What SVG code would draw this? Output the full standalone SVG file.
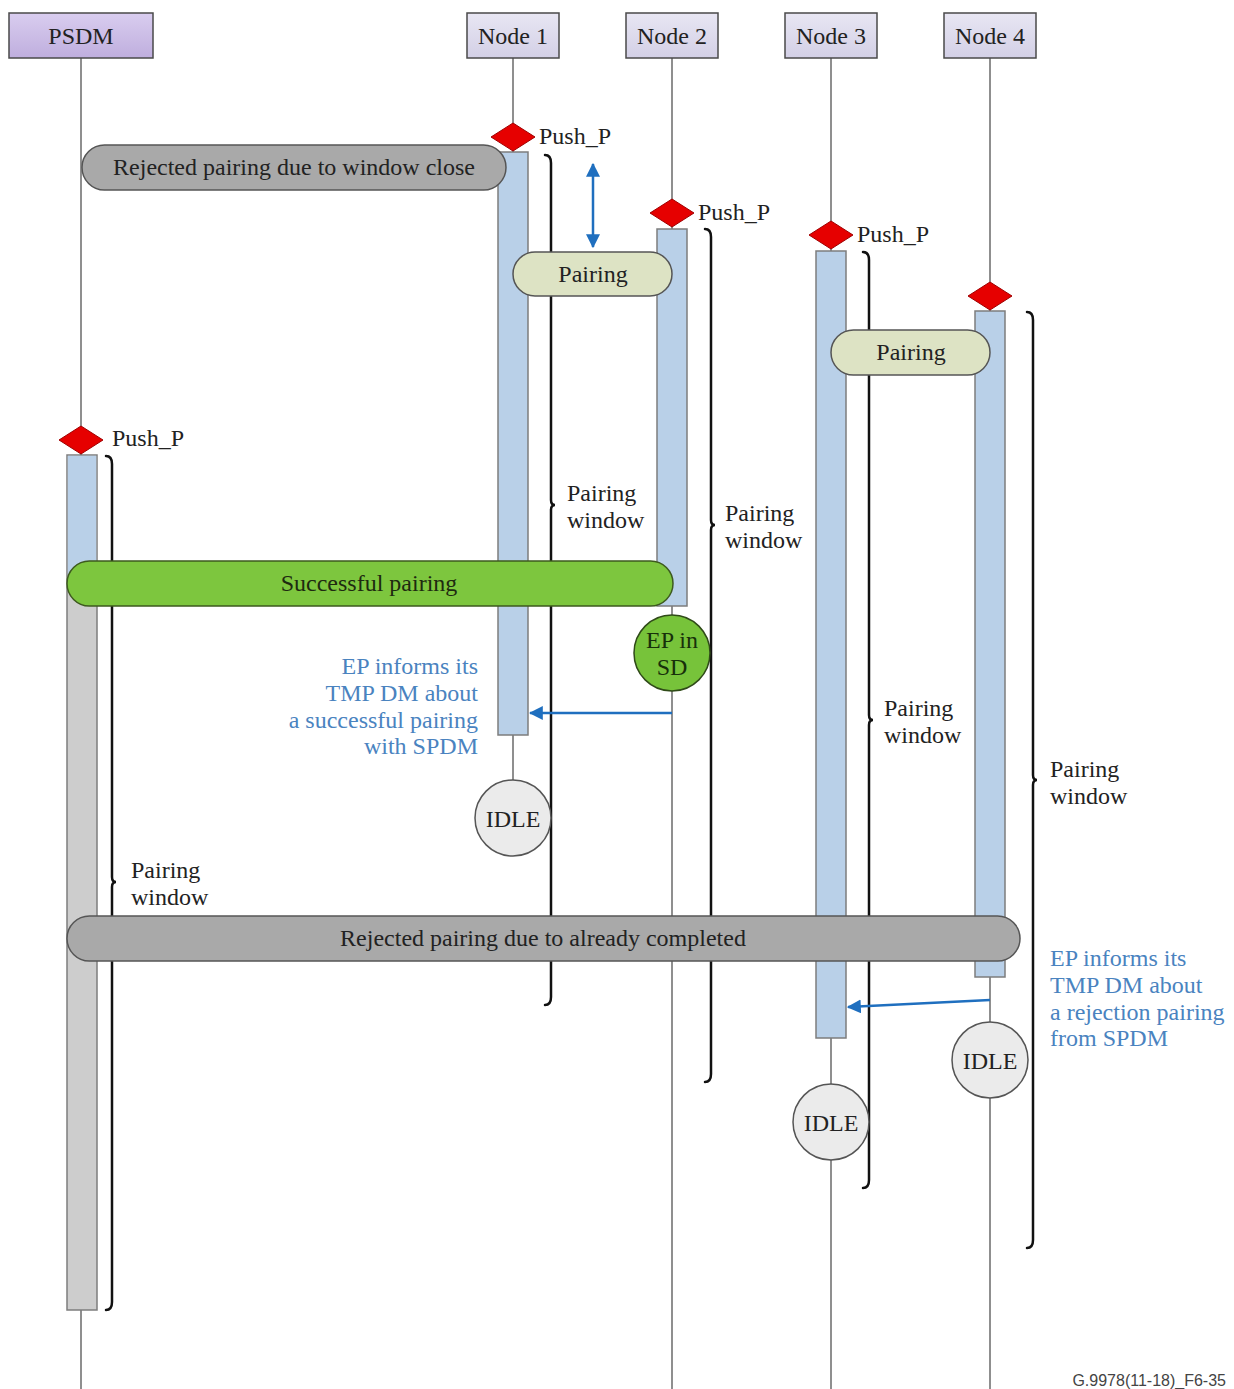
<svg xmlns="http://www.w3.org/2000/svg" width="1234" height="1389" viewBox="0 0 1234 1389">
  <style>
    .hdr { stroke: #4a4a4a; stroke-width: 1.5; }
    .life { stroke: #6a6a6a; stroke-width: 1.5; fill: none; }
    .bar { fill: #b9d0e8; stroke: #7d7d7d; stroke-width: 1.5; }
    .bar-grey { fill: #cdcdcd; stroke: #7d7d7d; stroke-width: 1.5; }
    .dia { fill: #e60000; stroke: #a00000; stroke-width: 1; }
    .brace { fill: none; stroke: #111; stroke-width: 2.5; stroke-linecap: round; }
    .pill-grey { fill: #a9a9a9; stroke: #555; stroke-width: 1.5; }
    .pill-pale { fill: #dde3c4; stroke: #555; stroke-width: 1.5; }
    .pill-green { fill: #7dc63e; stroke: #3d5a1e; stroke-width: 1.5; }
    .idle { fill: #ebebeb; stroke: #555; stroke-width: 1.5; }
    .t { font-family: 'Liberation Serif', 'Times New Roman', Times, 'DejaVu Serif', serif; font-size: 24px; fill: #222; }
    .c { text-anchor: middle; }
    .blue { fill: #4a83bf; }
    .msg { stroke: #1f6fbf; stroke-width: 2.5; fill: none; }
    .foot { font-family: 'Liberation Sans', Arial, sans-serif; font-size: 16px; fill: #444; }
  </style>
  <defs>
    <linearGradient id="gPsdm" x1="0" y1="0" x2="0" y2="1">
      <stop offset="0" stop-color="#d9cdef"/>
      <stop offset="1" stop-color="#bfaede"/>
    </linearGradient>
    <linearGradient id="gNode" x1="0" y1="0" x2="0" y2="1">
      <stop offset="0" stop-color="#e8e6f3"/>
      <stop offset="1" stop-color="#d3d0e6"/>
    </linearGradient>
    <marker id="ah" viewBox="0 0 12 12" refX="11" refY="6" markerWidth="14" markerHeight="14" markerUnits="userSpaceOnUse" orient="auto-start-reverse">
      <path d="M0,0 L12,6 L0,12 Z" fill="#1f6fbf"/>
    </marker>
  </defs>

  <rect width="1234" height="1389" fill="#fff"/>

  <!-- lifelines -->
  <g id="lifelines">
    <line class="life" x1="81" y1="58" x2="81" y2="1389"/>
    <line class="life" x1="513" y1="58" x2="513" y2="780"/>
    <line class="life" x1="672" y1="58" x2="672" y2="1389"/>
    <line class="life" x1="831" y1="58" x2="831" y2="1389"/>
    <line class="life" x1="990" y1="58" x2="990" y2="1389"/>
  </g>

  <!-- header boxes -->
  <g id="psdm">
    <rect class="hdr" x="9" y="13" width="144" height="45" fill="url(#gPsdm)"/>
    <text class="t c" x="81" y="44">PSDM</text>
  </g>
  <g id="node1">
    <rect class="hdr" x="467" y="13" width="92" height="45" fill="url(#gNode)"/>
    <text class="t c" x="513" y="44">Node 1</text>
  </g>
  <g id="node2">
    <rect class="hdr" x="626" y="13" width="92" height="45" fill="url(#gNode)"/>
    <text class="t c" x="672" y="44">Node 2</text>
  </g>
  <g id="node3">
    <rect class="hdr" x="785" y="13" width="92" height="45" fill="url(#gNode)"/>
    <text class="t c" x="831" y="44">Node 3</text>
  </g>
  <g id="node4">
    <rect class="hdr" x="944" y="13" width="92" height="45" fill="url(#gNode)"/>
    <text class="t c" x="990" y="44">Node 4</text>
  </g>

  <!-- activation bars -->
  <g id="bars">
    <rect class="bar" x="498" y="152" width="30" height="583"/>
    <rect class="bar" x="657" y="229" width="30" height="377"/>
    <rect class="bar" x="816" y="251" width="30" height="787"/>
    <rect class="bar" x="975" y="311" width="30" height="666"/>
    <rect class="bar-grey" x="67" y="455" width="30" height="855"/>
    <rect x="67.75" y="455.75" width="28.5" height="130" fill="#b9d0e8"/>
  </g>

  <!-- pairing window braces -->
  <g id="braces">
    <path class="brace" d="M545,155 Q551,155 551,163 V500 Q551,505 555,505 Q551,505 551,510 V997 Q551,1005 545,1005"/>
    <path class="brace" d="M705,229 Q711,229 711,237 V520 Q711,525 715,525 Q711,525 711,530 V1074 Q711,1082 705,1082"/>
    <path class="brace" d="M863,252 Q869,252 869,260 V715 Q869,720 873,720 Q869,720 869,725 V1180 Q869,1188 863,1188"/>
    <path class="brace" d="M1027,312 Q1033,312 1033,320 V775 Q1033,780 1037,780 Q1033,780 1033,785 V1240 Q1033,1248 1027,1248"/>
    <path class="brace" d="M106,456 Q112,456 112,464 V877 Q112,882 116,882 Q112,882 112,887 V1302 Q112,1310 106,1310"/>
  </g>

  <!-- window labels -->
  <g id="window-labels" class="t">
    <text x="567" y="501">Pairing</text><text x="567" y="528">window</text>
    <text x="725" y="521">Pairing</text><text x="725" y="548">window</text>
    <text x="884" y="716">Pairing</text><text x="884" y="743">window</text>
    <text x="1050" y="777">Pairing</text><text x="1050" y="804">window</text>
    <text x="131" y="878">Pairing</text><text x="131" y="905">window</text>
  </g>

  <!-- push button events -->
  <g id="push-events">
    <polygon class="dia" points="491,137 513,123 535,137 513,151"/>
    <text class="t" x="539" y="144">Push_P</text>
    <polygon class="dia" points="650,213 672,199 694,213 672,227"/>
    <text class="t" x="698" y="220">Push_P</text>
    <polygon class="dia" points="809,235 831,221 853,235 831,249"/>
    <text class="t" x="857" y="242">Push_P</text>
    <polygon class="dia" points="968,296 990,282 1012,296 990,310"/>
    <polygon class="dia" points="59,440 81,426 103,440 81,454"/>
    <text class="t" x="112" y="446">Push_P</text>
  </g>

  <!-- interaction bands -->
  <g id="rejected-close">
    <rect class="pill-grey" x="82" y="145" width="424" height="45" rx="22.5"/>
    <text class="t c" x="294" y="175">Rejected pairing due to window close</text>
  </g>
  <g id="pairing-12">
    <rect class="pill-pale" x="513" y="252" width="159" height="44" rx="22"/>
    <text class="t c" x="593" y="282">Pairing</text>
  </g>
  <g id="pairing-34">
    <rect class="pill-pale" x="831" y="330" width="159" height="45" rx="22.5"/>
    <text class="t c" x="911" y="360">Pairing</text>
  </g>
  <g id="successful">
    <rect class="pill-green" x="67" y="561" width="606" height="45" rx="22.5"/>
    <text class="t c" x="369" y="591" style="fill:#1e2a10">Successful pairing</text>
  </g>
  <g id="rejected-completed">
    <rect class="pill-grey" x="67" y="916" width="953" height="45" rx="22.5"/>
    <text class="t c" x="543" y="946">Rejected pairing due to already completed</text>
  </g>

  <!-- states -->
  <g id="ep-in-sd">
    <circle cx="672" cy="653" r="38" fill="#77c33a" stroke="#2f4a18" stroke-width="1.5"/>
    <text class="t c" x="672" y="648" style="fill:#17300a">EP in</text>
    <text class="t c" x="672" y="675" style="fill:#17300a">SD</text>
  </g>
  <g id="idle1">
    <circle class="idle" cx="513" cy="818" r="38"/>
    <text class="t c" x="513" y="827">IDLE</text>
  </g>
  <g id="idle4">
    <circle class="idle" cx="990" cy="1060" r="38"/>
    <text class="t c" x="990" y="1069">IDLE</text>
  </g>
  <g id="idle3">
    <circle class="idle" cx="831" cy="1122" r="38"/>
    <text class="t c" x="831" y="1131">IDLE</text>
  </g>

  <!-- messages -->
  <g id="connectors">
    <line class="msg" x1="593" y1="164" x2="593" y2="247" marker-start="url(#ah)" marker-end="url(#ah)"/>
    <line class="msg" x1="672" y1="713" x2="530" y2="713" marker-end="url(#ah)"/>
    <line class="msg" x1="990" y1="1000" x2="848" y2="1007" marker-end="url(#ah)"/>
  </g>

  <!-- message notes -->
  <g id="note-success" class="t blue" text-anchor="end">
    <text x="478" y="674">EP informs its</text>
    <text x="478" y="701">TMP DM about</text>
    <text x="478" y="728">a successful pairing</text>
    <text x="478" y="754">with SPDM</text>
  </g>
  <g id="note-reject" class="t blue">
    <text x="1050" y="966">EP informs its</text>
    <text x="1050" y="993">TMP DM about</text>
    <text x="1050" y="1020">a rejection pairing</text>
    <text x="1050" y="1046">from SPDM</text>
  </g>

  <text class="foot" x="1226" y="1386" text-anchor="end">G.9978(11-18)_F6-35</text>
</svg>
